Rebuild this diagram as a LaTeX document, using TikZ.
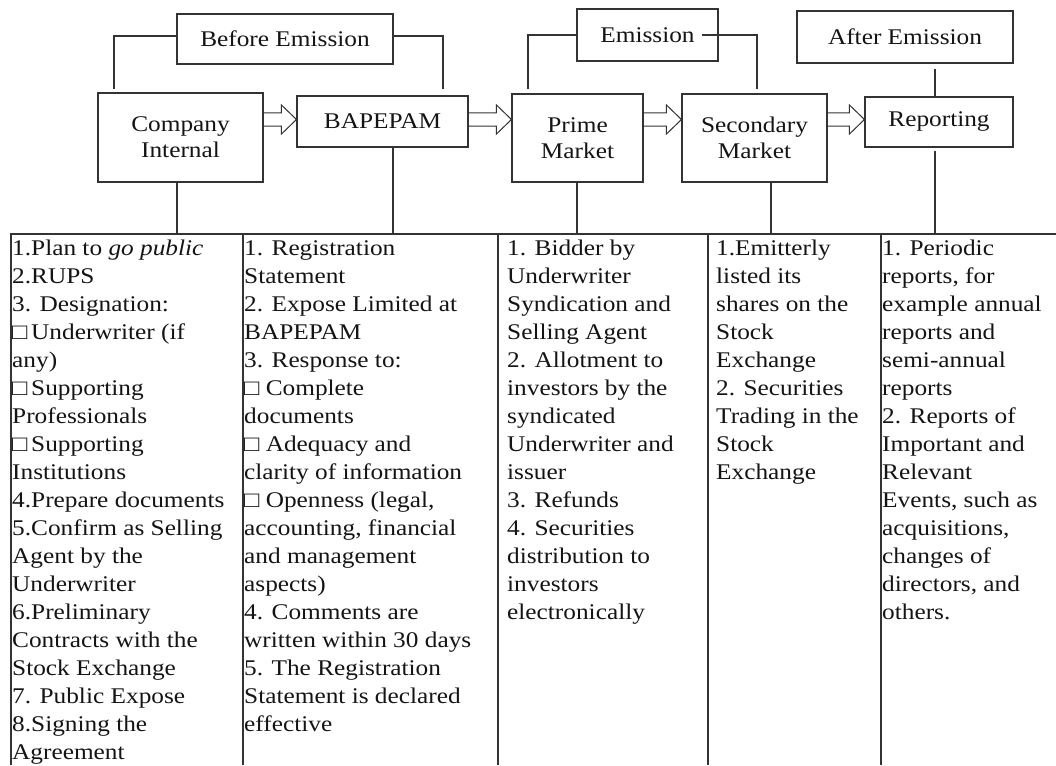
\documentclass[tikz,border=0pt]{standalone}
\usepackage{fontspec}
\setmainfont{Liberation Serif}[FakeStretch=1.13]
\definecolor{linec}{HTML}{333333}
\definecolor{txt}{HTML}{141414}
\newcommand\sqbox{□}
\begin{document}
\begin{tikzpicture}[x=1pt,y=-1pt,
  line/.style={draw=linec, line width=1.1pt},
  box/.style={draw=linec, line width=1.1pt, inner sep=0pt, align=center, text=txt, font=\fontsize{22.4}{26}\selectfont},
  coltext/.style={anchor=base west, inner sep=0pt, align=left, text=txt, font=\fontsize{22.4}{28}\selectfont},
  blockarrow/.style={draw=linec, line width=1pt, line join=miter}
]
\useasboundingbox (0,0) rectangle (1056,765);

% top boxes
\node[box, minimum width=216pt, minimum height=50pt] (BE) at (285,39) {Before Emission};
\node[box, minimum width=165pt, minimum height=89pt] (CI) at (180.5,137.5) {Company\\Internal};
\node[box, minimum width=171pt, minimum height=51pt] (BA) at (382.5,121.5) {BAPEPAM};
\node[box, minimum width=141pt, minimum height=52pt] (EM) at (647.5,35) {Emission};
\node[box, minimum width=131pt, minimum height=88pt] (PM) at (577.5,138) {Prime\\Market};
\node[box, minimum width=145pt, minimum height=88pt] (SM) at (754.5,138) {Secondary\\Market};
\node[box, minimum width=216pt, minimum height=52pt] (AE) at (905,37) {After Emission};
\node[box, minimum width=148pt, minimum height=50pt] (RP) at (939,122) {Reporting};

% brackets
\coordinate (b1) at (114,89);
\coordinate (b2) at (443,89);
\coordinate (b3) at (528,89);
\coordinate (b4) at (757,89);
\draw[line] ([yshift=3pt]BE.west) -| (b1);
\draw[line] ([yshift=3pt]BE.east) -| (b2);
\draw[line] (EM.west) -| (b3);
\draw[line] ([xshift=-17pt]EM.east) -| (b4);

% hollow arrows
\newcommand\hollowarrow[2]{%
  \draw[blockarrow] (#1.east |- 0,113) -- ([xshift=-15pt]#2.west |- 0,113)
    -- ([xshift=-15pt]#2.west |- 0,105) -- (#2.west |- 0,119.5)
    -- ([xshift=-15pt]#2.west |- 0,134) -- ([xshift=-15pt]#2.west |- 0,126)
    -- (#1.east |- 0,126);}
\hollowarrow{CI}{BA}
\hollowarrow{BA}{PM}
\hollowarrow{PM}{SM}
\hollowarrow{SM}{RP}

% table frame
\draw[line] (11,765) -- (11,234) -- (1056,234);
\foreach \xx in {243,498,708,881} \draw[line] (\xx,234) -- (\xx,765);

% connectors to table
\coordinate (t1) at (177,234);
\coordinate (t2) at (393,234);
\coordinate (t3) at (577,234);
\coordinate (t4) at (771,234);
\coordinate (t5) at (935,234);
\coordinate (r5) at (935,151);
\coordinate (a5) at (935,69);
\draw[line] (CI.south -| t1) -- (t1);
\draw[line] (BA.south -| t2) -- (t2);
\draw[line] (PM.south -| t3) -- (t3);
\draw[line] (SM.south -| t4) -- (t4);
\draw[line] (r5) -- (t5);
\draw[line] (a5) -- (a5 |- RP.north);

% table texts (anchored at the baseline of their last line)
\node[coltext] (c1) at (12,759) {1.Plan to \textit{go public}\\
2.RUPS\\
3. Designation:\\
\sqbox\,Underwriter (if\\
any)\\
\sqbox\,Supporting\\
Professionals\\
\sqbox\,Supporting\\
Institutions\\
4.Prepare documents\\
5.Confirm as Selling\\
Agent by the\\
Underwriter\\
6.Preliminary\\
Contracts with the\\
Stock Exchange\\
7. Public Expose\\
8.Signing the\\
Agreement};

\node[coltext] (c2) at (244,731) {1. Registration\\
Statement\\
2. Expose Limited at\\
BAPEPAM\\
3. Response to:\\
\sqbox{} Complete\\
documents\\
\sqbox{} Adequacy and\\
clarity of information\\
\sqbox{} Openness (legal,\\
accounting, financial\\
and management\\
aspects)\\
4. Comments are\\
written within 30 days\\
5. The Registration\\
Statement is declared\\
effective};

\node[coltext] (c3) at (507,619) {1. Bidder by\\
Underwriter\\
Syndication and\\
Selling Agent\\
2. Allotment to\\
investors by the\\
syndicated\\
Underwriter and\\
issuer\\
3. Refunds\\
4. Securities\\
distribution to\\
investors\\
electronically};

\node[coltext] (c4) at (716,479) {1.Emitterly\\
listed its\\
shares on the\\
Stock\\
Exchange\\
2. Securities\\
Trading in the\\
Stock\\
Exchange};

\node[coltext] (c5) at (882,619) {1. Periodic\\
reports, for\\
example annual\\
reports and\\
semi-annual\\
reports\\
2. Reports of\\
Important and\\
Relevant\\
Events, such as\\
acquisitions,\\
changes of\\
directors, and\\
others.};
\end{tikzpicture}
\end{document}
